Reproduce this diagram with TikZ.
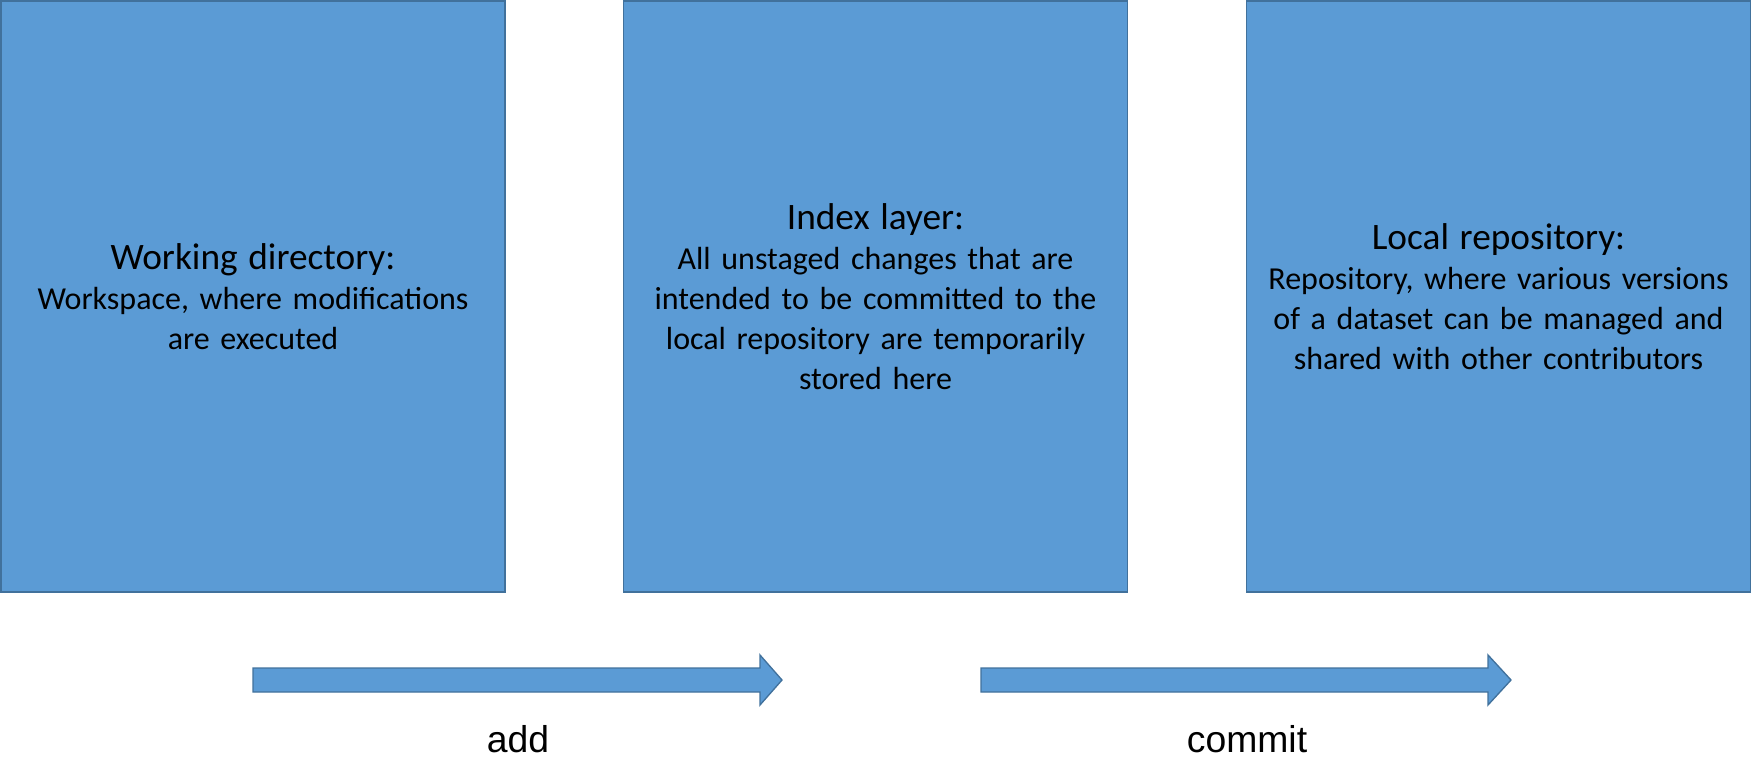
\documentclass[tikz,border=0pt]{standalone}
\usepackage{fontspec}
\setmainfont{Carlito}
\newfontfamily\labelfont{Liberation Sans}
\definecolor{boxfill}{HTML}{5B9BD5}
\definecolor{boxline}{HTML}{41719C}
\tikzset{
  stagebox/.style={draw=boxline, fill=boxfill, line width=1pt,
    minimum width=378pt, minimum height=443.25pt, inner sep=0pt,
    text width=370pt, align=center,
    font=\fontsize{24}{30}\selectfont},
  arrowshape/.style={draw=boxline, fill=boxfill, line width=1pt, line join=miter},
  steplabel/.style={font=\labelfont\fontsize{28}{34}\selectfont, anchor=base, inner sep=0pt}
}
\newcommand{\boxtitle}[1]{{\fontsize{28}{30}\selectfont #1}\par}
\begin{document}
\begin{tikzpicture}[x=0.75pt,y=-0.75pt]
\useasboundingbox (0,0) rectangle (1762,782);
\node[stagebox] (wd) at (253,296.5) {\boxtitle{Working directory:}Workspace, where modifications\\ are executed};
\node[stagebox] (idx) at (875.5,296.5) {\boxtitle{Index layer:}All unstaged changes that are\\ intended to be committed to the\\ local repository are temporarily\\ stored here};
\node[stagebox] (repo) at (1498.5,296.5) {\boxtitle{Local repository:}Repository, where various versions\\ of a dataset can be managed and\\ shared with other contributors};
% arrows
\draw[arrowshape] (253,668) -- (760,668) -- (760,655) -- (782,680) -- (760,705) -- (760,692) -- (253,692) -- cycle;
\draw[arrowshape] (981,668) -- (1488,668) -- (1488,655) -- (1511,680) -- (1488,705) -- (1488,692) -- (981,692) -- cycle;
\node[steplabel] (add) at (518,752) {add};
\node[steplabel] (commit) at (1247,752) {commit};
\end{tikzpicture}
\end{document}
